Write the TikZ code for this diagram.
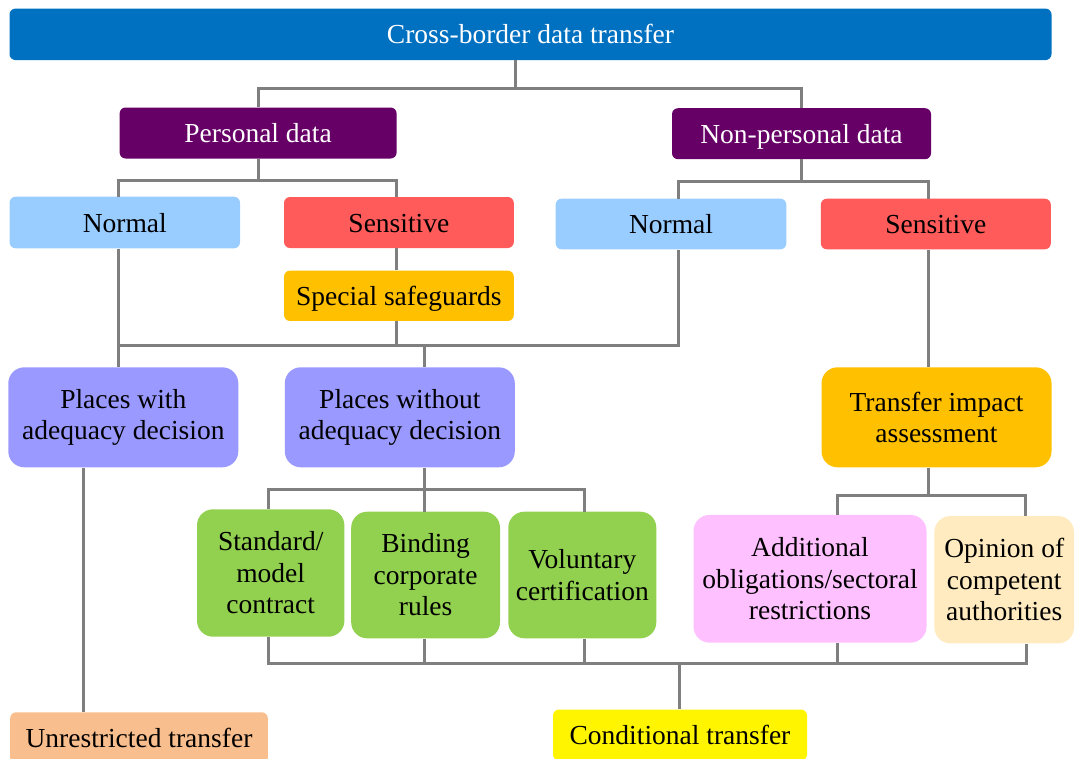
\documentclass[tikz,border=0pt]{standalone}
\usepackage{fontspec}
\setmainfont{Liberation Serif}
\definecolor{topblue}{HTML}{0070C0}
\definecolor{plum}{HTML}{660066}
\definecolor{skyblue}{HTML}{99CCFF}
\definecolor{coral}{HTML}{FF5B5B}
\definecolor{amber}{HTML}{FFC000}
\definecolor{lavender}{HTML}{9999FF}
\definecolor{leaf}{HTML}{92D050}
\definecolor{pinkish}{HTML}{FFC0FF}
\definecolor{cream}{HTML}{FFEBBF}
\definecolor{peach}{HTML}{F9BE8E}
\definecolor{lemon}{HTML}{FFF500}
\definecolor{linegray}{HTML}{7F7F7F}
\begin{document}
\begin{tikzpicture}[x=1pt,y=-1pt,
  basebox/.style={inner sep=0pt, align=center,
    font=\fontsize{27.5}{31.5}\selectfont, text=black},
  box/.style={basebox, rounded corners=6pt, text height=19pt, text depth=0pt},
  tallbox/.style={basebox, rounded corners=16pt},
  link/.style={draw=linegray, line width=3pt}]
\useasboundingbox (0,0) rectangle (1075,758);
\clip (0,0) rectangle (1075,758);

% boxes
\node[box, fill=topblue, text=white, minimum width=1042pt, minimum height=51.5pt] (top) at (530.5,34.3) {Cross-border data transfer};
\node[box, fill=plum, text=white, minimum width=277pt, minimum height=51pt] (pers) at (258.1,133) {Personal data};
\node[box, fill=plum, text=white, minimum width=259pt, minimum height=51pt] (nonp) at (801.5,133.7) {Non-personal data};
\node[box, fill=skyblue, minimum width=230.4pt, minimum height=51.6pt] (normL) at (124.8,222.5) {Normal};
\node[box, fill=coral, minimum width=229.8pt, minimum height=51pt] (sensL) at (398.9,222.5) {Sensitive};
\node[box, fill=skyblue, minimum width=230.7pt, minimum height=50.6pt] (normR) at (671,224) {Normal};
\node[box, fill=coral, minimum width=230pt, minimum height=50.6pt] (sensR) at (935.8,224) {Sensitive};
\node[box, fill=amber, minimum width=229.8pt, minimum height=50.3pt] (safe) at (398.9,295.8) {Special safeguards};
\node[tallbox, fill=lavender, minimum width=230pt, minimum height=100pt] (pwith) at (123.3,417.3) {Places with\\adequacy decision};
\node[tallbox, fill=lavender, minimum width=230pt, minimum height=100pt] (pwout) at (399.8,417.3) {Places without\\adequacy decision};
\node[tallbox, fill=amber, minimum width=230pt, minimum height=100pt] (tia) at (936.5,417.3) {Transfer impact\\assessment};
\node[tallbox, fill=leaf, minimum width=147.4pt, minimum height=127.4pt] (smc) at (270.7,573) {Standard/\\model\\contract};
\node[tallbox, fill=leaf, minimum width=148.8pt, minimum height=126.6pt] (bcr) at (425.6,575) {Binding\\corporate\\rules};
\node[tallbox, fill=leaf, minimum width=148pt, minimum height=126.6pt] (vol) at (582.3,575) {Voluntary\\certification};
\node[tallbox, fill=pinkish, minimum width=233pt, minimum height=127.7pt] (add) at (810,578.8) {Additional\\obligations/sectoral\\restrictions};
\node[tallbox, fill=cream, minimum width=139.6pt, minimum height=127.3pt] (opin) at (1004.2,579.7) {Opinion of\\competent\\authorities};
\node[box, fill=peach, minimum width=257.7pt, minimum height=51pt] (unres) at (139,737.8) {Unrestricted transfer};
\node[box, fill=lemon, minimum width=254pt, minimum height=51pt] (cond) at (680,735) {Conditional transfer};

% junction points of the tree
\coordinate (j0) at (515.5,88.5);
\coordinate (a1) at (118,180);
\coordinate (a2) at (396.7,180);
\coordinate (c1) at (678,181.7);
\coordinate (c2) at (928.6,181.7);
\coordinate (b1) at (118,345);
\coordinate (b2) at (396.7,345);
\coordinate (b3) at (678,345);
\coordinate (b4) at (424.6,345);
\coordinate (u1) at (83.7,500);
\coordinate (g1) at (268,489.3);
\coordinate (g2) at (424.6,489.3);
\coordinate (g3) at (584.2,489.3);
\coordinate (t1) at (837,495);
\coordinate (t2) at (928.6,495);
\coordinate (t3) at (1025.7,495);
\coordinate (h1) at (268,663.3);
\coordinate (h2) at (1026.7,663.3);
\coordinate (h3) at (679.6,663.3);

% connectors
\draw[link] (top.south -| j0) -- (j0);
\draw[link] (pers.north) |- (j0) -| (nonp.north);
\draw[link] (pers.south) -- (pers.south |- a1);
\draw[link] (normL.north -| a1) |- (a2) -- (sensL.north -| a2);
\draw[link] (nonp.south) -- (nonp.south |- c1);
\draw[link] (normR.north -| c1) |- (c2) -- (sensR.north -| c2);
\draw[link] (sensL.south -| a2) -- (safe.north -| a2);
\draw[link] (normL.south -| b1) -- (pwith.north -| b1);
\draw[link] (safe.south -| b2) -- (b2);
\draw[link] (normR.south -| b3) -- (b3) -- (b1);
\draw[link] (b4) -- (pwout.north -| b4);
\draw[link] (sensR.south -| c2) -- (tia.north -| c2);
\draw[link] (pwith.south -| u1) -- (unres.north -| u1);
\draw[link] (pwout.south -| g2) -- (g2);
\draw[link] (smc.north -| g1) -- (g1) -- (g3) -- (vol.north -| g3);
\draw[link] (g2) -- (bcr.north -| g2);
\draw[link] (tia.south -| t2) -- (t2);
\draw[link] (add.north -| t1) -- (t1) -- (t3) -- (opin.north -| t3);
\draw[link] (smc.south -| h1) -- (h1) -- (h2) -- (opin.south -| h2);
\draw[link] (bcr.south -| g2) -- (h1 -| g2);
\draw[link] (vol.south -| g3) -- (h1 -| g3);
\draw[link] (add.south -| t1) -- (h1 -| t1);
\draw[link] (h3) -- (cond.north -| h3);
\end{tikzpicture}
\end{document}
